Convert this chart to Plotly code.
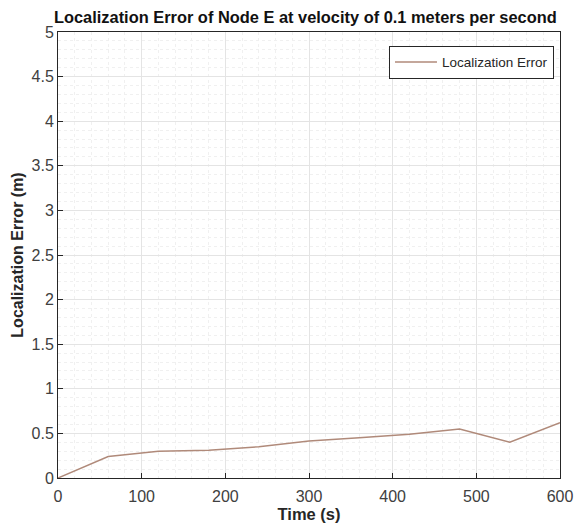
import plotly.graph_objects as go

time_s = [0, 60, 120, 180, 240, 300, 360, 420, 480, 540, 600]
loc_error = [0.0, 0.24, 0.30, 0.31, 0.35, 0.415, 0.45, 0.49, 0.55, 0.40, 0.62]

FONT = "Liberation Sans, Arial"

fig = go.Figure()
fig.add_trace(go.Scatter(x=time_s, y=loc_error, mode="lines", name="Localization Error",
                         line=dict(color="#b08a7a", width=1.5)))

axis_common = dict(
    showline=True, linecolor="#262626", linewidth=1, mirror=True,
    ticks="inside", ticklen=5, tickcolor="#262626",
    showgrid=True, gridcolor="#e4e4e4", gridwidth=1,
    zeroline=False, automargin=False, ticklabeloverflow="allow",
    tickfont=dict(family=FONT, size=16, color="#404040"),
)

fig.update_xaxes(range=[0, 600], dtick=100, ticklabelstandoff=4,
                 minor=dict(dtick=20, showgrid=True, gridcolor="#f0f0f0", griddash="dot"),
                 title=dict(text="<b>Time (s)</b>", font=dict(family=FONT, size=16.5, color="#262626"), standoff=2),
                 **axis_common)
fig.update_yaxes(range=[0, 5], dtick=0.5,
                 minor=dict(dtick=0.1, showgrid=True, gridcolor="#f0f0f0", griddash="dot"),
                 title=dict(text="<b>Localization Error (m)</b>", font=dict(family=FONT, size=16, color="#262626"), standoff=3),
                 **axis_common)

fig.update_layout(
    width=574, height=532,
    margin=dict(l=58, r=14, t=32, b=54),
    paper_bgcolor="white", plot_bgcolor="white",
    title=dict(text="<b>Localization Error of Node E at velocity of 0.1 meters per second</b>",
               x=0.532, xanchor="center", y=0.968, yanchor="middle",
               font=dict(family=FONT, size=16.4, color="#111111")),
    legend=dict(x=0.988, y=0.969, xanchor="right", yanchor="top",
                bgcolor="white", bordercolor="#262626", borderwidth=1,
                itemwidth=42,
                font=dict(family=FONT, size=13.5, color="#262626")),
    showlegend=True,
)

# drop the default page margin so the figure sits at the window corner
fig.write_html("out.html", config={"displayModeBar": False},
               post_script="document.body.style.margin='0';document.body.style.overflow='hidden';")
